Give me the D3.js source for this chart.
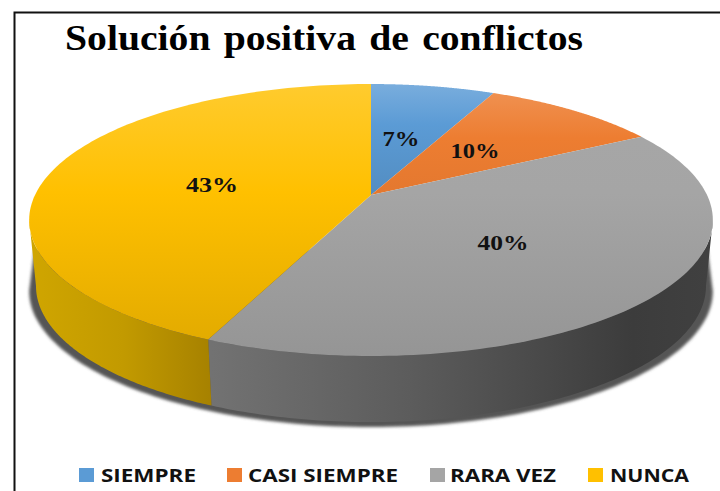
<!DOCTYPE html>
<html><head><meta charset="utf-8">
<script src="https://cdn.jsdelivr.net/npm/d3@7"></script>
<style>html,body{margin:0;padding:0;background:#fff}svg{display:block}</style>
</head><body><svg id="c" width="720" height="491"></svg>
<script>
const categories = ["SIEMPRE","CASI SIEMPRE","RARA VEZ","NUNCA"];
const values = [7,10,39.6,43.4];
const colors = ["#5b9bd5","#ed7d31","#a5a5a5","#ffc000"];
const titleText = "Solución positiva de conflictos";
const legendX = [79,227,430,588];
const legendW = [95,150,106,79];
const labelPos = [[401,139],[475,151],[503,243],[212,185]];
const labelW = [37,49,51,52];

const svg = d3.select("#c");
const defs = svg.append("defs");
const color = d3.scaleOrdinal(categories, colors);

// perspective pie projection
const X0=371,Y0=195,A=131.4,B=336,K=0.184,DEPTH=66,XS=0.98;
const proj = t => { const u=Math.sin(t), v=Math.cos(t), d=1+K*v;
  return [X0+B*u/d, Y0-A*v/d]; };
const arcPts = (a,b) => d3.range(0,121).map(i=>proj(a+(b-a)*i/120));
const lower = q => [X0+(q[0]-X0)*XS, q[1]+DEPTH];
const line = d3.line();

const arcs = d3.pie().sort(null).value(d=>d)(values);

// frame
svg.append("path").attr("d","M720,12.5H14.5V491").attr("fill","none").attr("stroke","#111").attr("stroke-width",2);

// gradients
const baseStop = [0.15,0.2,0.4,0.4], endDark = [0.3,0.15,0.1,0.12], topLight = [0.18,0.18,0.02,0.18];
categories.forEach((c,i)=>{
  const g=defs.append("linearGradient").attr("id","top"+i).attr("gradientUnits","userSpaceOnUse")
    .attr("x1",0).attr("x2",0).attr("y1",84).attr("y2",356);
  const base=color(c);
  g.append("stop").attr("offset",0).attr("stop-color",d3.interpolateRgb(base,"#fff")(topLight[i]));
  g.append("stop").attr("offset",baseStop[i]).attr("stop-color",base);
  g.append("stop").attr("offset",1).attr("stop-color",d3.interpolateRgb(base,"#000")(endDark[i]));
});
defs.append("filter").attr("id","soft").attr("x","-10%").attr("y","-10%").attr("width","120%").attr("height","120%")
  .append("feGaussianBlur").attr("stdDeviation",1.8);
const sideStops = {
  2:[[0,"#727272"],[0.4,"#5c5c5c"],[0.85,"#3c3c3c"],[1,"#404040"]],
  3:[[0,"#cfa500"],[0.5,"#c29a00"],[1,"#a68100"]]
};
const sideRange = {2:[212,707],3:[35,212]};
Object.keys(sideStops).forEach(i=>{
  const g=defs.append("linearGradient").attr("id","side"+i).attr("gradientUnits","userSpaceOnUse")
    .attr("x1",sideRange[i][0]).attr("x2",sideRange[i][1]).attr("y1",0).attr("y2",0);
  sideStops[i].forEach(s=>g.append("stop").attr("offset",s[0]).attr("stop-color",s[1]));
});

// side walls: visible between the right and left extremes of the rim
const extreme = Math.acos(-K);
const sides = [
  {i:2,a:Math.max(arcs[2].startAngle,extreme),b:arcs[2].endAngle},
  {i:3,a:arcs[3].startAngle,b:2*Math.PI-extreme}
];
// soft shadow under the walls, tapering up behind the wall ends
const rimPts = arcPts(extreme,2*Math.PI-extreme);
const shadowLow = rimPts.map(q=>[q[0],q[1]+DEPTH+5]);
const taper = q => [X0+(q[0]-X0)*0.985,q[1]+30];
svg.append("path").attr("fill","#555").attr("filter","url(#soft)")
  .attr("d",line([taper(rimPts[0])].concat(shadowLow,[taper(rimPts[rimPts.length-1])]))+"Z");

svg.append("g").selectAll("path").data(sides).join("path")
  .attr("fill",d=>`url(#side${d.i})`)
  .attr("d",d=>{ const p=arcPts(d.a,d.b);
    return line(p.concat(p.map(lower).reverse()))+"Z"; });

// top face
svg.append("g").selectAll("path").data(arcs).join("path")
  .attr("fill",(d,i)=>`url(#top${i})`)
  .attr("d",d=>line([[X0,Y0]].concat(arcPts(d.startAngle,d.endAngle)))+"Z");

// data labels
svg.append("g").selectAll("text").data(values).join("text")
  .attr("x",(d,i)=>labelPos[i][0]-labelW[i]/2).attr("y",(d,i)=>labelPos[i][1]+7)
  .attr("textLength",(d,i)=>labelW[i]).attr("lengthAdjust","spacingAndGlyphs")
  .attr("font-family","'Liberation Serif',serif").attr("font-weight","bold")
  .attr("font-size",21).attr("fill","#111").text(d=>d3.format(".0f")(d)+"%");

// title
svg.append("text").attr("x",65).attr("y",50)
  .attr("textLength",518).attr("lengthAdjust","spacingAndGlyphs")
  .attr("font-family","'Liberation Serif',serif").attr("font-weight","bold")
  .attr("font-size",36).attr("word-spacing",3).attr("fill","#000").text(titleText);

// legend
const lg=svg.append("g").selectAll("g").data(categories).join("g")
  .attr("transform",(d,i)=>`translate(${legendX[i]},468)`);
lg.append("rect").attr("width",15).attr("height",14).attr("fill",d=>color(d));
lg.append("text").attr("x",(d,i)=>i==1?21:i==2?20:22).attr("y",14)
  .attr("textLength",(d,i)=>legendW[i]).attr("lengthAdjust","spacingAndGlyphs")
  .attr("font-family","'Open Sans',sans-serif").attr("font-weight",700)
  .attr("font-size",18.5).attr("fill","#111").text(d=>d);
</script></body></html>
